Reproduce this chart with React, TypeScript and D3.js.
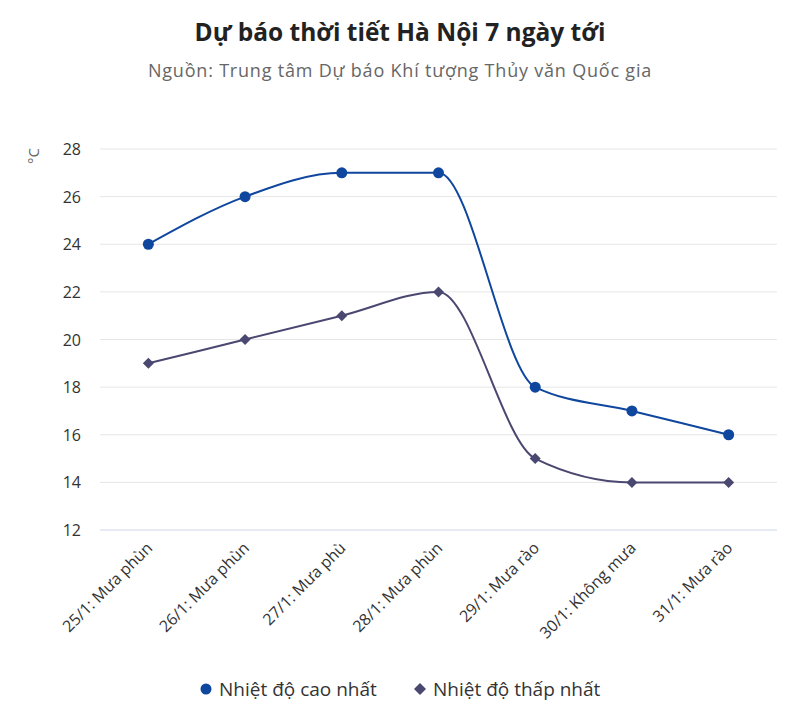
import React from "react";
import * as d3 from "d3";

const categories = [
  "25/1: Mưa phùn",
  "26/1: Mưa phùn",
  "27/1: Mưa phù",
  "28/1: Mưa phùn",
  "29/1: Mưa rào",
  "30/1: Không mưa",
  "31/1: Mưa rào",
];
const highTemps = [24, 26, 27, 27, 18, 17, 16];
const lowTemps = [19, 20, 21, 22, 15, 14, 14];
const yTicks = [12, 14, 16, 18, 20, 22, 24, 26, 28];

const W = 800;
const H = 709;
const left = 100;
const right = 777;
const top = 149;
const bottom = 530;
const highColor = "#0f469e";
const lowColor = "#4a4770";
const font = "'Open Sans', Lato, sans-serif";

export default function App() {
  const x = d3.scaleBand<string>().domain(categories).range([left, right]);
  const y = d3.scaleLinear().domain([12, 28]).range([bottom, top]);
  const cx = (c: string) => (x(c) ?? 0) + x.bandwidth() / 2;
  const line = d3
    .line<number>()
    .x((_, i) => cx(categories[i]))
    .y((d) => y(d))
    .curve(d3.curveMonotoneX);
  const diamond = (px: number, py: number, r: number) =>
    `M${px},${py - r}L${px + r},${py}L${px},${py + r}L${px - r},${py}Z`;

  return (
    <svg width={W} height={H} style={{ position: "absolute", left: 0, top: 0, background: "#fff" }}>
      <text x={400} y={41} textAnchor="middle" fontFamily={font} fontWeight={700} fontSize={24.5} fill="#222">
        Dự báo thời tiết Hà Nội 7 ngày tới
      </text>
      <text x={400} y={77} textAnchor="middle" fontFamily={font} fontSize={18} letterSpacing={0.8} fill="#666">
        Nguồn: Trung tâm Dự báo Khí tượng Thủy văn Quốc gia
      </text>
      {yTicks.map((t) => (
        <g key={t}>
          <line
            x1={left}
            x2={right}
            y1={y(t)}
            y2={y(t)}
            stroke={t === 12 ? "#ccd6eb" : "#e6e6e6"}
            strokeWidth={1}
          />
          <text x={81} y={y(t) + 6} textAnchor="end" fontFamily={font} fontSize={16} fill="#333">
            {t}
          </text>
        </g>
      ))}
      <text
        transform="translate(39,156) rotate(-90)"
        textAnchor="middle"
        fontFamily={font}
        fontSize={15}
        fill="#666"
      >
        °C
      </text>
      {categories.map((c) => (
        <text
          key={c}
          transform={`translate(${cx(c) + 5},${549}) rotate(-45)`}
          textAnchor="end"
          fontFamily={font}
          fontSize={16}
          fill="#333"
        >
          {c}
        </text>
      ))}
      <path d={line(lowTemps) ?? ""} fill="none" stroke={lowColor} strokeWidth={2} />
      <path d={line(highTemps) ?? ""} fill="none" stroke={highColor} strokeWidth={2} />
      {lowTemps.map((v, i) => (
        <path key={i} d={diamond(cx(categories[i]), y(v), 5.5)} fill={lowColor} />
      ))}
      {highTemps.map((v, i) => (
        <circle key={i} cx={cx(categories[i])} cy={y(v)} r={5.5} fill={highColor} />
      ))}
      <circle cx={206} cy={689} r={5.5} fill={highColor} />
      <text x={219} y={696} fontFamily={font} fontSize={19} fill="#333">
        Nhiệt độ cao nhất
      </text>
      <path d={diamond(420, 689, 6)} fill={lowColor} />
      <text x={433} y={696} fontFamily={font} fontSize={19} fill="#333">
        Nhiệt độ thấp nhất
      </text>
    </svg>
  );
}
